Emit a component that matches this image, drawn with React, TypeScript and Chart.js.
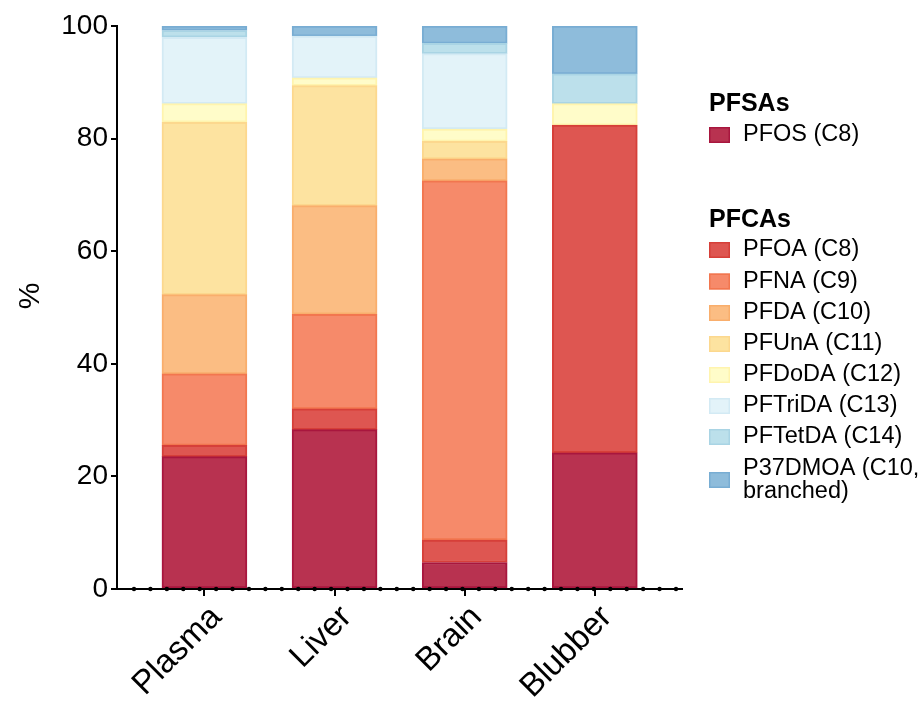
import React, { useEffect, useRef } from "react";
import { Chart, registerables } from "chart.js";

Chart.register(...registerables);

const categories = ["Plasma", "Liver", "Brain", "Blubber"];
const yTicks = [0, 20, 40, 60, 80, 100];
const yTitle = "%";

const pfos = [23.5, 28.3, 4.7, 24.2];
const pfoa = [2.0, 3.7, 4.0, 58.2];
const pfna = [12.7, 16.8, 63.8, 0];
const pfda = [14.1, 19.3, 3.9, 0];
const pfuna = [30.6, 21.3, 3.1, 0];
const pfdoda = [3.3, 1.4, 2.2, 3.8];
const pftrida = [11.8, 7.4, 13.4, 0];
const pftetda = [1.2, 0, 1.8, 5.3];
const p37dmoa = [0.8, 1.8, 3.1, 8.5];

const seriesLabels = [
  "PFOS (C8)",
  "PFOA (C8)",
  "PFNA (C9)",
  "PFDA (C10)",
  "PFUnA (C11)",
  "PFDoDA (C12)",
  "PFTriDA (C13)",
  "PFTetDA (C14)",
  "P37DMOA (C10,\nbranched)",
];
const seriesValues = [pfos, pfoa, pfna, pfda, pfuna, pfdoda, pftrida, pftetda, p37dmoa];
const fills = ["#B83250", "#DE5651", "#F68A6A", "#FBBD83", "#FDE3A0", "#FFFCC9", "#E3F3F9", "#BCE0EB", "#8EBCDB"];
const borders = ["#A8163E", "#D63F39", "#F2764F", "#F9AE6C", "#FCD88E", "#FFF4AE", "#D3EAF4", "#A9D4E4", "#78ADD3"];
const groupHeaders = ["PFSAs", "PFCAs"];

const FONT = "'Liberation Sans', Arial, sans-serif";

export default function App() {
  const ref = useRef<HTMLCanvasElement>(null);
  useEffect(() => {
    document.body.style.margin = "0";
    const canvas = ref.current!;
    const datasets = seriesValues.map((vals, i) => ({
      label: seriesLabels[i],
      data: vals.map((v, j) => ({ x: j, y: v })),
      backgroundColor: fills[i],
      borderColor: borders[i],
      borderWidth: 2,
      borderSkipped: false as const,
      barThickness: 85,
    }));

    const dotsPlugin = {
      id: "dots",
      afterDraw(chart: any) {
        const ctx = chart.ctx;
        const { left, right, bottom } = chart.chartArea;
        const first = left + 17;
        const last = right - 6;
        const n = 33;
        const step = (last - first) / n;
        ctx.save();
        ctx.fillStyle = "#000";
        for (let k = 0; k <= n; k++) {
          ctx.beginPath();
          ctx.arc(first + k * step, bottom, 2.2, 0, Math.PI * 2);
          ctx.fill();
        }
        ctx.restore();
      },
    };

    const titlePlugin = {
      id: "yTitle",
      afterDraw(chart: any) {
        const ctx = chart.ctx;
        ctx.save();
        ctx.translate(31, 296);
        ctx.rotate(-Math.PI / 2);
        ctx.textAlign = "center";
        ctx.textBaseline = "middle";
        ctx.fillStyle = "#000";
        ctx.font = `30px ${FONT}`;
        ctx.fillText(yTitle, 0, 0);
        ctx.restore();
      },
    };

    const legendPlugin = {
      id: "customLegend",
      afterDraw(chart: any) {
        const ctx = chart.ctx;
        ctx.save();
        ctx.textBaseline = "middle";
        ctx.fillStyle = "#000";
        const hx = 709;
        const sx = 709;
        const tx = 743;
        ctx.font = `bold 25px ${FONT}`;
        ctx.fillText(groupHeaders[0], hx, 104);
        ctx.fillText(groupHeaders[1], hx, 220);
        const rows: number[] = [135, 250, 281.5, 313, 344, 375, 406, 437, 480];
        seriesLabels.forEach((lab, i) => {
          const y = rows[i];
          ctx.fillStyle = fills[i];
          ctx.fillRect(sx, y - 8, 21, 16);
          ctx.strokeStyle = borders[i];
          ctx.lineWidth = 1.5;
          ctx.strokeRect(sx + 0.75, y - 7.25, 19.5, 14.5);
          ctx.fillStyle = "#000";
          ctx.font = `23.5px ${FONT}`;
          const lines = lab.split("\n");
          if (lines.length === 1) {
            ctx.fillText(lines[0], tx, y);
          } else {
            ctx.fillText(lines[0], tx, y - 11.5);
            ctx.fillText(lines[1], tx, y + 11.5);
          }
        });
        ctx.restore();
      },
    };

    const chart = new Chart(canvas, {
      type: "bar",
      data: { datasets },
      options: {
        animation: false,
        responsive: false,
        maintainAspectRatio: false,
        layout: { padding: { top: 26, right: 239, left: 0, bottom: 0 } },
        plugins: { legend: { display: false }, tooltip: { enabled: false } },
        scales: {
          x: {
            type: "linear",
            stacked: true,
            offset: false,
            min: -0.672,
            max: 3.67,
            afterBuildTicks: (scale: any) => {
              scale.ticks = categories.map((_, i) => ({ value: i }));
            },
            afterFit: (scale: any) => {
              scale.height = 115;
            },
            ticks: {
              autoSkip: false,
              minRotation: 45,
              maxRotation: 45,
              color: "#000",
              font: { family: FONT, size: 33 },
              padding: 2,
              labelOffset: 12,
              callback: (v: any) => categories[v] ?? "",
            },
            grid: { offset: false, drawOnChartArea: false, tickLength: 7, color: "#000", lineWidth: 2 },
            border: { display: true, color: "#000", width: 2 },
          },
          y: {
            stacked: true,
            min: 0,
            max: 100,
            afterBuildTicks: (scale: any) => {
              scale.ticks = yTicks.map((v) => ({ value: v }));
            },
            afterFit: (scale: any) => {
              scale.width = 117;
            },
            ticks: {
              color: "#000",
              font: { family: FONT, size: 28 },
              padding: 3,
            },
            title: { display: false },
            grid: { drawOnChartArea: false, tickLength: 6, color: "#000", lineWidth: 2 },
            border: { display: true, color: "#000", width: 2 },
          },
        },
      },
      plugins: [dotsPlugin, titlePlugin, legendPlugin],
    });
    return () => chart.destroy();
  }, []);
  return (
    <div style={{ width: 921, height: 704, background: "#fff" }}>
      <canvas ref={ref} width={921} height={704} style={{ width: 921, height: 704, display: "block" }} />
    </div>
  );
}
